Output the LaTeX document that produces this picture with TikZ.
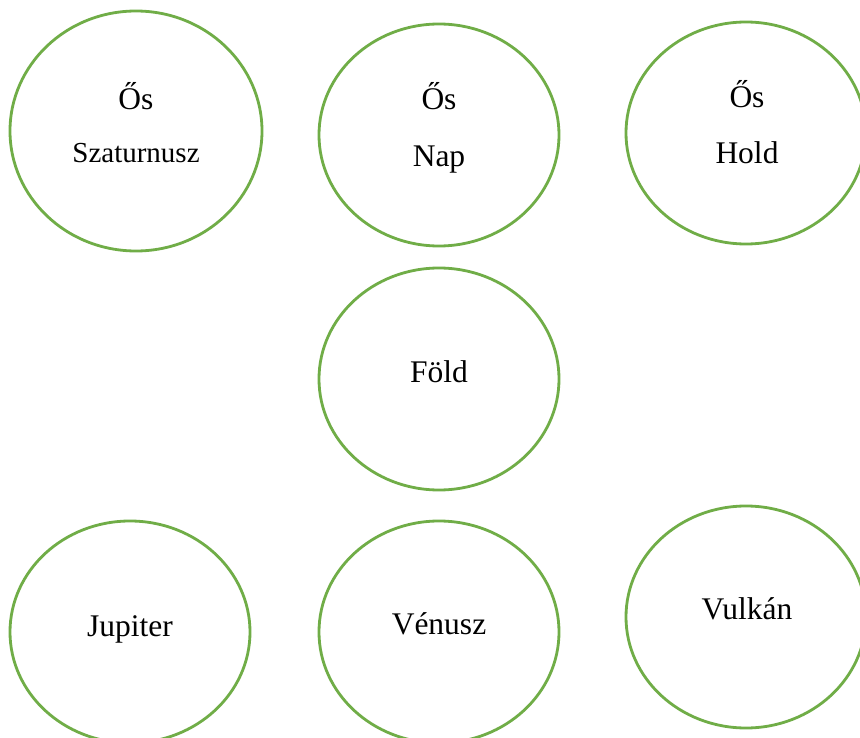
\documentclass[tikz,border=0pt]{standalone}
\usepackage{fontspec}
\setmainfont{Liberation Serif}
\usetikzlibrary{shapes.geometric}
\definecolor{ovalgreen}{RGB}{112,173,71}
\begin{document}
\begin{tikzpicture}[x=1pt,y=-1pt,
  oval/.style={ellipse,draw=ovalgreen,line width=2.8pt,inner sep=0pt,
    minimum width=240pt,minimum height=222pt},
  lbl/.style={anchor=base,inner sep=0pt,font=\fontsize{31.5}{36}\selectfont},
  lblsmall/.style={anchor=base,inner sep=0pt,font=\fontsize{29}{34}\selectfont}]
\useasboundingbox[clip] (0,0) rectangle (860,738);
\fill[white] (0,0) rectangle (860,738);
% ovals
\node[oval,minimum width=252pt,minimum height=240pt] (szat) at (136,131) {};
\node[oval] (nap) at (439,135) {};
\node[oval] (hold) at (746,133) {};
\node[oval] (fold) at (439,379) {};
\node[oval] (jup) at (130,632) {};
\node[oval] (ven) at (439,632) {};
\node[oval] (vul) at (746,617) {};
% labels
\node[lbl] (t1a) at (136,110) {Ős};
\node[lblsmall] (t1b) at (136,163) {Szaturnusz};
\node[lbl] (t2a) at (439,110) {Ős};
\node[lbl] (t2b) at (439,167) {Nap};
\node[lbl] (t3a) at (747,108) {Ős};
\node[lbl] (t3b) at (747,164) {Hold};
\node[lbl] (t4) at (439,382) {Föld};
\node[lbl] (t5) at (130,636) {Jupiter};
\node[lbl] (t6) at (439,634) {Vénusz};
\node[lbl] (t7) at (747,619) {Vulkán};
\end{tikzpicture}
\end{document}
